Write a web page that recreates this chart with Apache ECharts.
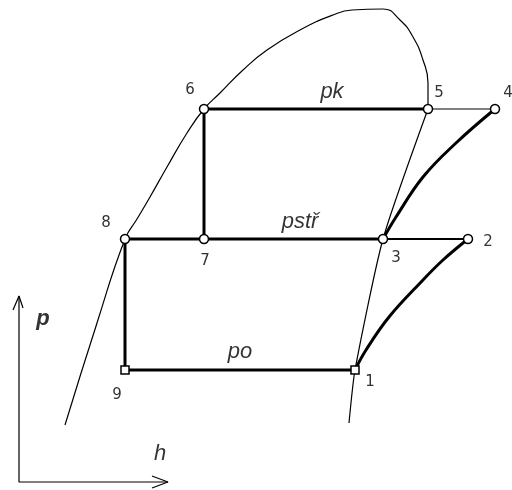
<!DOCTYPE html>
<html>
<head>
<meta charset="utf-8">
<script src="https://cdn.jsdelivr.net/npm/echarts@6/dist/echarts.min.js"></script>
<style>
  html, body { margin: 0; padding: 0; background: #fff; }
  #chart { width: 512px; height: 490px; }
</style>
</head>
<body>
<div id="chart"></div>
<script>
// p-h diagram, h on x, p on y (arbitrary units)
var pPo = 120, pStr = 251, pPk = 381;

// state points [h, p]
var pointNames = ['1', '2', '3', '4', '5', '6', '7', '8', '9'];
var pointH = [355, 468, 383, 495, 428, 204, 204, 125, 125];
var pointP = [pPo, pStr, pStr, pPk, pPk, pPk, pStr, pStr, pPo];

// saturation dome (left branch + top), then right branch
var domeH = [65, 97, 125, 137, 150, 167, 187, 204, 220, 243, 267, 300, 333, 352, 383, 400, 413, 423, 428, 428];
var domeP = [65, 167, pStr, 271, 293, 323, 357, pPk, 397, 420, 440, 460, 475, 480, 481, 470, 453, 430, 407, pPk];
var rightH = [428, 383, 355, 349];
var rightP = [pPk, pStr, pPo, 67];

// compression 1-2 and 3-4
var comp12H = [355, 366, 389, 423, 443, 468];
var comp12P = [pPo, 140, 173, 210, 230, pStr];
var comp34H = [383, 396, 423, 456, 495];
var comp34P = [pStr, 273, 313, 347, pPk];

// small p-h axes in the corner
var axisH = [19, 19, 168];
var axisP = [194, 8, 8];

function pairs(xs, ys) {
    var out = [];
    for (var i = 0; i < xs.length; i++) out.push([xs[i], ys[i]]);
    return out;
}
function pt(name) {
    var i = pointNames.indexOf(name);
    return [pointH[i], pointP[i]];
}

var labelOffset = {
    '1': [15, 12], '2': [20, 3], '3': [13, 19], '4': [13, -16], '5': [11, -16],
    '6': [-14, -19], '7': [1, 22], '8': [-19, -16], '9': [-8, 25]
};

var thick = { color: '#000', width: 3 };
var thin = { color: '#000', width: 1.2 };

var myChart = echarts.init(document.getElementById('chart'));
var option = {
    backgroundColor: '#fff',
    animation: false,
    grid: { left: 0, right: 0, top: 0, bottom: 0 },
    xAxis: { type: 'value', min: 0, max: 512, show: false },
    yAxis: { type: 'value', min: 0, max: 490, show: false },
    series: [
        { type: 'line', data: pairs(domeH, domeP), smooth: 0.5, symbol: 'none', lineStyle: thin },
        { type: 'line', data: pairs(rightH, rightP), smooth: 0.2, symbol: 'none', lineStyle: thin },
        // pk line: thick 6-5, thin 5-4
        { type: 'line', data: [pt('6'), pt('5')], symbol: 'none', lineStyle: thick },
        { type: 'line', data: [pt('5'), pt('4')], symbol: 'none', lineStyle: thin },
        // pstr line
        { type: 'line', data: [pt('8'), pt('3')], symbol: 'none', lineStyle: thick },
        { type: 'line', data: [pt('3'), pt('2')], symbol: 'none', lineStyle: { color: '#000', width: 2 } },
        // po line
        { type: 'line', data: [pt('9'), pt('1')], symbol: 'none', lineStyle: thick },
        // verticals
        { type: 'line', data: [pt('6'), pt('7')], symbol: 'none', lineStyle: thick },
        { type: 'line', data: [pt('8'), pt('9')], symbol: 'none', lineStyle: thick },
        // compressions
        { type: 'line', data: pairs(comp12H, comp12P), smooth: 0.4, symbol: 'none', lineStyle: thick },
        { type: 'line', data: pairs(comp34H, comp34P), smooth: 0.4, symbol: 'none', lineStyle: thick },
        // corner axes
        { type: 'line', data: pairs(axisH, axisP), symbol: 'none', lineStyle: { color: '#000', width: 1.2 } },
        { type: 'line', data: [[13, 180], [19, 194], [23, 182]], symbol: 'none', lineStyle: { color: '#000', width: 1.2 } },
        { type: 'line', data: [[152, 14], [168, 8], [152, 2]], symbol: 'none', lineStyle: { color: '#000', width: 1.2 } },
        // state points
        {
            type: 'scatter',
            z: 5,
            data: pointNames.map(function (n) {
                var isSq = (n === '1' || n === '9');
                return {
                    value: pt(n),
                    name: n,
                    symbol: isSq ? 'rect' : 'circle',
                    symbolSize: isSq ? 8 : 9,
                    label: { offset: labelOffset[n] }
                };
            }),
            itemStyle: { color: '#fff', borderColor: '#000', borderWidth: 1.5, opacity: 1 },
            label: {
                show: true,
                position: 'inside',
                formatter: '{b}',
                color: '#333',
                fontSize: 15,
                fontFamily: 'DejaVu Sans'
            }
        },
        // pressure-line names and axis letters
        {
            type: 'scatter',
            symbolSize: 1,
            itemStyle: { color: 'rgba(0,0,0,0)' },
            data: [
                { value: [332, 398], name: 'pk' },
                { value: [300, 268], name: 'pstř' },
                { value: [240, 138], name: 'po' },
                { value: [43, 171], name: 'p', label: { fontWeight: 'bold' } },
                { value: [160, 36], name: 'h' }
            ],
            label: {
                show: true,
                position: 'inside',
                formatter: '{b}',
                color: '#000',
                fontSize: 22,
                fontStyle: 'italic',
                fontFamily: 'Liberation Sans'
            }
        }
    ]
};
myChart.setOption(option);
</script>
</body>
</html>
